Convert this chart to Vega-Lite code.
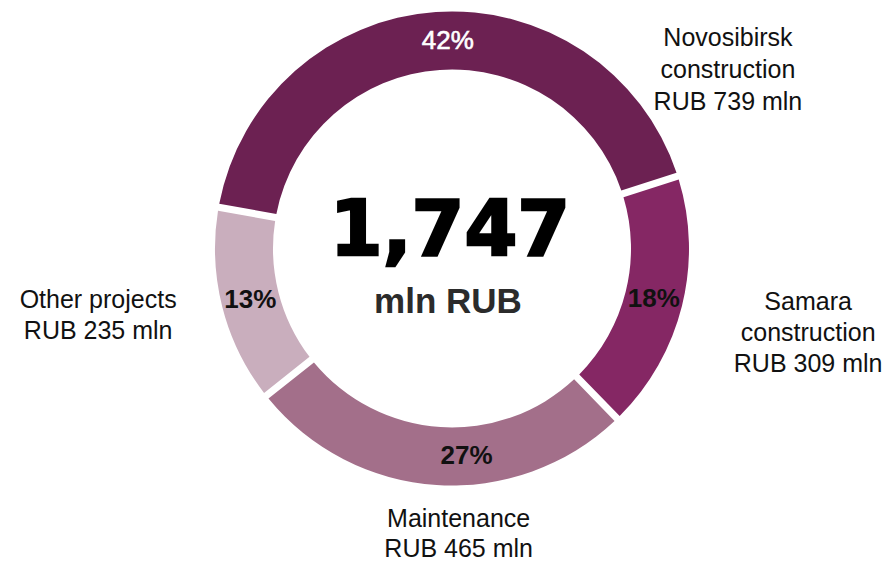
{
  "$schema": "https://vega.github.io/schema/vega-lite/v6.json",
  "width": 876,
  "height": 497,
  "autosize": {"type": "none"},
  "padding": {"left": 14, "right": 0, "top": 0, "bottom": 64},
  "background": "white",
  "config": {"view": {"stroke": null}},
  "data": {
    "values": [
      {"category": "Novosibirsk construction", "label": "Novosibirsk\nconstruction\nRUB 739 mln", "value": 739, "pct": "42%", "rank": 1},
      {"category": "Samara construction", "label": "Samara\nconstruction\nRUB 309 mln", "value": 309, "pct": "18%", "rank": 2},
      {"category": "Maintenance", "label": "Maintenance\nRUB 465 mln", "value": 465, "pct": "27%", "rank": 3},
      {"category": "Other projects", "label": "Other projects\nRUB 235 mln", "value": 235, "pct": "13%", "rank": 4}
    ]
  },
  "layer": [
    {
      "mark": {"type": "arc", "radius": 237, "radius2": 179, "padAngle": 0.024},
      "encoding": {
        "theta": {"field": "value", "type": "quantitative", "stack": true, "scale": {"range": [-1.3963, 4.8869]}},
        "order": {"field": "rank", "type": "quantitative"},
        "color": {
          "field": "category", "type": "nominal", "legend": null,
          "scale": {
            "domain": ["Novosibirsk construction", "Samara construction", "Maintenance", "Other projects"],
            "range": ["#6C2152", "#852764", "#A36F8A", "#C9AEBD"]
          }
        }
      }
    },
    {
      "mark": {"type": "text", "radius": 208, "dx": 10, "font": "Liberation Sans", "fontSize": 26, "fontWeight": "normal", "fill": "white", "stroke": "white", "strokeWidth": 0.6, "align": "center", "baseline": "middle"},
      "encoding": {
        "theta": {"field": "value", "type": "quantitative", "stack": true, "scale": {"range": [-1.3963, 4.8869]}},
        "order": {"field": "rank", "type": "quantitative"},
        "detail": {"field": "category", "type": "nominal"},
        "text": {"condition": {"test": "datum.rank == 1", "field": "pct", "type": "nominal"}, "value": ""}
      }
    },
    {
      "mark": {"type": "text", "radius": 208, "font": "Liberation Sans", "fontSize": 26, "fontWeight": "bold", "fill": "#111111", "align": "center", "baseline": "middle"},
      "encoding": {
        "theta": {"field": "value", "type": "quantitative", "stack": true, "scale": {"range": [-1.3963, 4.8869]}},
        "order": {"field": "rank", "type": "quantitative"},
        "detail": {"field": "category", "type": "nominal"},
        "text": {"condition": {"test": "datum.rank == 2 || datum.rank == 4", "field": "pct", "type": "nominal"}, "value": ""}
      }
    },
    {
      "mark": {"type": "text", "radius": 208, "dx": 28, "font": "Liberation Sans", "fontSize": 26, "fontWeight": "bold", "fill": "#111111", "align": "center", "baseline": "middle"},
      "encoding": {
        "theta": {"field": "value", "type": "quantitative", "stack": true, "scale": {"range": [-1.3963, 4.8869]}},
        "order": {"field": "rank", "type": "quantitative"},
        "detail": {"field": "category", "type": "nominal"},
        "text": {"condition": {"test": "datum.rank == 3", "field": "pct", "type": "nominal"}, "value": ""}
      }
    },
    {
      "mark": {"type": "text", "radius": 236, "dx": 292, "dy": 25, "lineBreak": "\n", "lineHeight": 32, "font": "Liberation Sans", "fontSize": 25, "fill": "#111111", "align": "center", "baseline": "middle"},
      "encoding": {
        "theta": {"field": "value", "type": "quantitative", "stack": true, "scale": {"range": [-1.3963, 4.8869]}},
        "order": {"field": "rank", "type": "quantitative"},
        "detail": {"field": "category", "type": "nominal"},
        "text": {"condition": {"test": "datum.rank == 1", "field": "label", "type": "nominal"}, "value": ""}
      }
    },
    {
      "mark": {"type": "text", "radius": 365, "dx": 2, "dy": -35, "lineBreak": "\n", "lineHeight": 31, "font": "Liberation Sans", "fontSize": 25, "fill": "#111111", "align": "center", "baseline": "middle"},
      "encoding": {
        "theta": {"field": "value", "type": "quantitative", "stack": true, "scale": {"range": [-1.3963, 4.8869]}},
        "order": {"field": "rank", "type": "quantitative"},
        "detail": {"field": "category", "type": "nominal"},
        "text": {"condition": {"test": "datum.rank == 2", "field": "label", "type": "nominal"}, "value": ""}
      }
    },
    {
      "mark": {"type": "text", "radius": 283, "dx": 25, "dy": -12, "lineBreak": "\n", "lineHeight": 30, "font": "Liberation Sans", "fontSize": 25, "fill": "#111111", "align": "center", "baseline": "middle"},
      "encoding": {
        "theta": {"field": "value", "type": "quantitative", "stack": true, "scale": {"range": [-1.3963, 4.8869]}},
        "order": {"field": "rank", "type": "quantitative"},
        "detail": {"field": "category", "type": "nominal"},
        "text": {"condition": {"test": "datum.rank == 3", "field": "label", "type": "nominal"}, "value": ""}
      }
    },
    {
      "mark": {"type": "text", "radius": 365, "dx": 0, "dy": -38, "lineBreak": "\n", "lineHeight": 31, "font": "Liberation Sans", "fontSize": 25, "fill": "#111111", "align": "center", "baseline": "middle"},
      "encoding": {
        "theta": {"field": "value", "type": "quantitative", "stack": true, "scale": {"range": [-1.3963, 4.8869]}},
        "order": {"field": "rank", "type": "quantitative"},
        "detail": {"field": "category", "type": "nominal"},
        "text": {"condition": {"test": "datum.rank == 4", "field": "label", "type": "nominal"}, "value": ""}
      }
    },
    {
      "data": {"values": [{"t": "1,747"}]},
      "mark": {"type": "text", "dx": -2, "dy": 6.5, "font": "DejaVu Sans", "fontSize": 76, "fontWeight": "bold", "fill": "#000000", "stroke": "#000000", "strokeWidth": 2.5, "align": "center", "baseline": "alphabetic"},
      "encoding": {"text": {"field": "t", "type": "nominal"}}
    },
    {
      "data": {"values": [{"t": "mln RUB"}]},
      "mark": {"type": "text", "dx": -4, "dy": 64.5, "font": "Liberation Sans", "fontSize": 35, "fontWeight": "bold", "fill": "#2B2B2B", "align": "center", "baseline": "alphabetic"},
      "encoding": {"text": {"field": "t", "type": "nominal"}}
    }
  ]
}
